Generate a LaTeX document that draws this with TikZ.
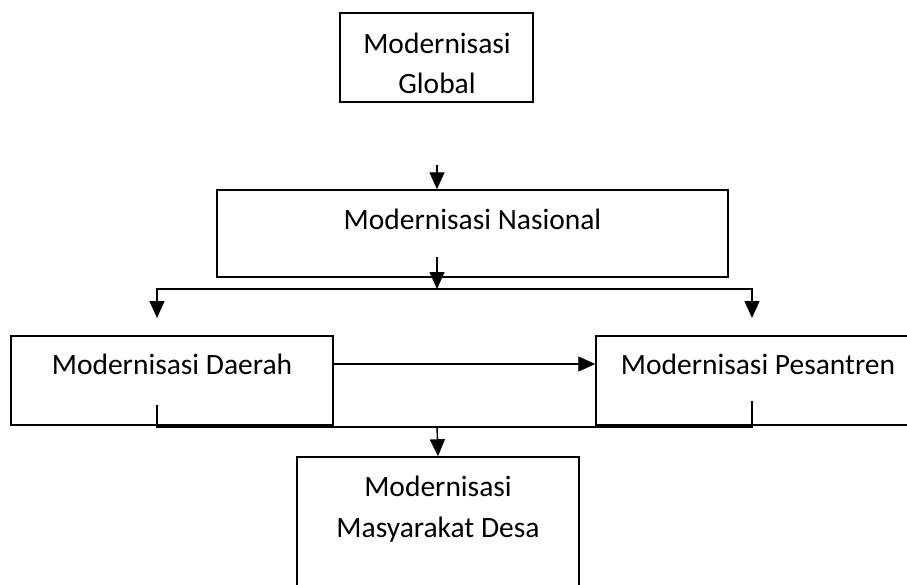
\documentclass[tikz,border=0pt]{standalone}
\usepackage{fontspec}
\setmainfont{Carlito}
\usetikzlibrary{arrows.meta}
\begin{document}
\begin{tikzpicture}[x=1pt,y=-1pt,
  box/.style={draw,line width=1.5pt,rectangle,inner sep=0pt},
  lbl/.style={font=\fontsize{29.5}{40}\selectfont,inner sep=0pt,anchor=base},
  conn/.style={line width=1.4pt},
  arr/.style={conn,-{Triangle[length=17pt,width=15pt]}}]
\useasboundingbox (0,0) rectangle (907,584);
\begin{scope}
\clip (0,0) rectangle (907,584);
% boxes
\node[box,minimum width=193pt,minimum height=89pt] (glob) at (436.5,57.5) {};
\node[box,minimum width=511pt,minimum height=87pt] (nas) at (472.5,233.5) {};
\node[box,minimum width=322pt,minimum height=89pt] (dae) at (172,380.5) {};
\node[box,minimum width=324pt,minimum height=89pt] (pes) at (758,380.5) {};
\node[box,minimum width=282pt,minimum height=163pt] (desa) at (438,538.5) {};
% texts
\node[lbl] (gt1) at (437,53) {Modernisasi};
\node[lbl] (gt2) at (437,93) {Global};
\node[lbl] (nt) at (472.5,229) {Modernisasi Nasional};
\node[lbl] (dt) at (172,374) {Modernisasi Daerah};
\node[lbl] (pt) at (758,374) {Modernisasi Pesantren};
\node[lbl] (st1) at (438,496) {Modernisasi};
\node[lbl] (st2) at (438,537) {Masyarakat Desa};
% connectors
\coordinate (a1) at (437,165);
\draw[arr] (a1) -- (a1 |- nas.north);
\coordinate (a2) at (437,257);
\coordinate (hub) at (437,289);
\draw[arr] (a2) -- (hub);
\coordinate (dl) at (157,318);
\coordinate (dr) at (752,318);
\draw[arr] (hub) -| (dl);
\draw[arr] (hub) -| (dr);
\coordinate (ay) at (0,364);
\draw[arr] (dae.east |- ay) -- (pes.west |- ay);
\coordinate (t1) at (157,405);
\coordinate (t2) at (752,401);
\coordinate (mid) at (437,427);
\draw[conn] (t1) |- (mid) -| (t2);
\draw[arr] (mid) -- (desa.north);
\end{scope}
\end{tikzpicture}
\end{document}
